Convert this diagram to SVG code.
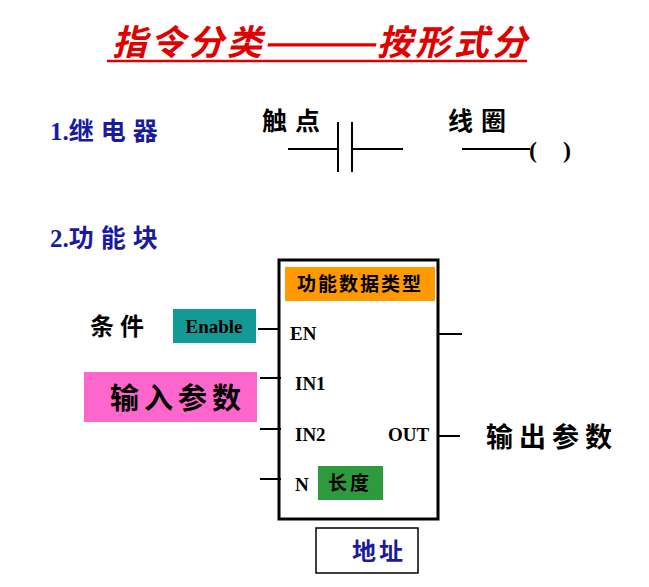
<svg xmlns="http://www.w3.org/2000/svg" width="649" height="587" viewBox="0 0 649 587">
<style>
.cn{font-family:"Noto Sans CJK SC","Liberation Serif",serif;font-weight:bold}
.lat{font-family:"Liberation Serif",serif;font-weight:bold}
.ln{stroke:#000;stroke-width:2;fill:none}
.tt{font-family:"Noto Sans CJK SC",sans-serif;font-weight:bold;font-size:35px;fill:#e00000}
</style>
<rect width="649" height="587" fill="#fff"/>
<g id="title" transform="translate(0,55) skewX(-14) translate(0,-55)">
<text x="112" y="55" class="tt" textLength="150" lengthAdjust="spacing">指令分类</text>
<text x="262" y="55" class="tt" textLength="115" lengthAdjust="spacingAndGlyphs">——</text>
<text x="377" y="55" class="tt" textLength="150" lengthAdjust="spacing">按形式分</text>
</g>
<line x1="107" y1="61" x2="527" y2="61" stroke="#e00000" stroke-width="2.5"/>
<g id="relay">
<text x="50" y="140" class="cn" font-size="25" letter-spacing="7" fill="#1a1aa0"><tspan class="lat" letter-spacing="0">1.</tspan>继电器</text>
<text x="262" y="130" class="cn" font-size="25" letter-spacing="8" fill="#000">触点</text>
<text x="448" y="130" class="cn" font-size="25" letter-spacing="8" fill="#000">线圈</text>
<text x="529" y="158" class="lat" font-size="24" fill="#000">(</text>
<text x="563" y="158" class="lat" font-size="24" fill="#000">)</text>
</g>
<g id="fb-title"><text x="50" y="247" class="cn" font-size="25" letter-spacing="7" fill="#1a1aa0"><tspan class="lat" letter-spacing="0">2.</tspan>功能块</text></g>
<g id="block">
<rect x="279" y="260" width="159" height="259" fill="#fff" stroke="#000" stroke-width="3"/>
<rect x="285" y="267" width="150" height="34" fill="#ff9900"/>
<text x="360" y="291" text-anchor="middle" class="cn" font-size="19" letter-spacing="2">功能数据类型</text>
<text x="290" y="340" class="lat" font-size="19">EN</text>
<text x="295" y="390" class="lat" font-size="19">IN1</text>
<text x="295" y="441" class="lat" font-size="19">IN2</text>
<text x="388" y="441" class="lat" font-size="19">OUT</text>
<text x="295" y="491" class="lat" font-size="19">N</text>
</g>
<g id="enable"><rect x="173" y="309" width="83" height="34" fill="#139a96"/><text x="214" y="333" text-anchor="middle" class="lat" font-size="19">Enable</text></g>
<g id="cond"><text x="90" y="335" class="cn" font-size="24" letter-spacing="6">条件</text></g>
<g id="input"><rect x="84" y="372" width="173" height="50" fill="#ff66cc"/><text x="110" y="409" class="cn" font-size="29" letter-spacing="5">输入参数</text></g>
<g id="len"><rect x="318" y="466" width="65" height="34" fill="#2e9a3e"/><text x="328" y="490" class="cn" font-size="19" letter-spacing="3">长度</text></g>
<g id="output"><text x="486" y="447" class="cn" font-size="27" letter-spacing="6">输出参数</text></g>
<g id="addr"><rect x="316" y="528" width="102" height="45" fill="#fff" stroke="#000" stroke-width="1.5"/><text x="352" y="560" class="cn" font-size="24" letter-spacing="3" fill="#1a1aa0">地址</text></g>
<g id="connectors" class="ln">
<line x1="288" y1="149" x2="338" y2="149"/>
<line x1="338" y1="122" x2="338" y2="172"/>
<line x1="352" y1="122" x2="352" y2="172"/>
<line x1="352" y1="149" x2="403" y2="149"/>
<line x1="462" y1="149" x2="530" y2="149"/>
<line x1="258" y1="329" x2="279" y2="329"/>
<line x1="438" y1="334" x2="462" y2="334"/>
<line x1="260" y1="378" x2="281" y2="378"/>
<line x1="260" y1="429" x2="281" y2="429"/>
<line x1="438" y1="436" x2="460" y2="436"/>
<line x1="260" y1="479" x2="281" y2="479"/>
</g>
</svg>
